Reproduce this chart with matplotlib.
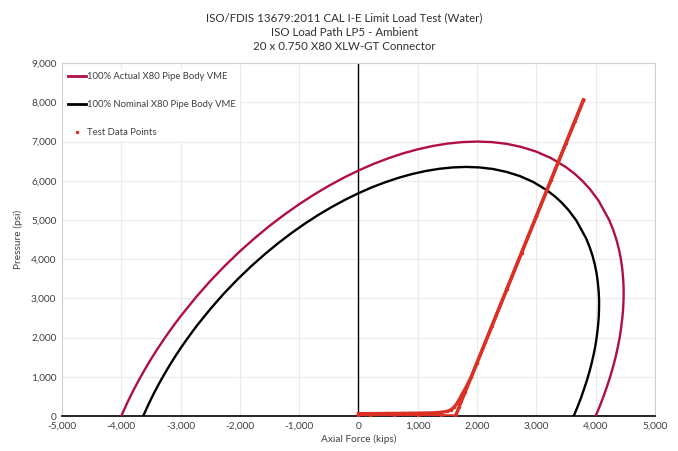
import matplotlib.pyplot as plt
from matplotlib.lines import Line2D
from matplotlib.ticker import FuncFormatter, MultipleLocator

plt.rcParams['font.family'] = ['Lato', 'DejaVu Sans']

# 100% actual X80 VME envelope (axial kips, pressure psi)
actual_f = [-4000, -3900, -3800, -3700, -3600, -3500, -3400, -3300, -3200, -3100, -3000,
            -2750, -2500, -2250, -2000, -1750, -1500, -1250, -1000, -750, -500, -250, 0,
            250, 500, 750, 1000, 1250, 1500, 1750, 2000, 2250, 2500, 2750, 3000, 3250, 3500,
            3650, 3774, 3900, 4046, 4228, 4295, 4350, 4393, 4426, 4449, 4464, 4472, 4471,
            4464, 4450, 4430, 4405, 4373, 4336, 4293, 4245, 4191, 4133, 4069, 4000]
actual_p = [0, 334, 641, 927, 1194, 1447, 1687, 1915, 2133, 2342, 2543,
            3012, 3442, 3836, 4200, 4536, 4849, 5136, 5402, 5647, 5871, 6076, 6261,
            6427, 6571, 6698, 6802, 6886, 6948, 6986, 7000, 6986, 6942, 6861, 6743, 6576, 6347,
            6173, 6000, 5794, 5500, 5000, 4750, 4500, 4250, 4000, 3750, 3500, 3250, 3000,
            2750, 2500, 2250, 2000, 1750, 1500, 1250, 1000, 750, 500, 250, 0]

# 100% nominal X80 VME envelope
nominal_f = [-3630, -3539, -3449, -3358, -3267, -3176, -3086, -2995, -2904, -2813, -2723,
             -2496, -2269, -2042, -1815, -1588, -1361, -1134, -908, -681, -454, -227, 0,
             227, 454, 681, 908, 1134, 1361, 1588, 1815, 2042, 2269, 2496, 2723, 2949, 3176,
             3312, 3425, 3539, 3672, 3837, 3898, 3948, 3987, 4017, 4037, 4051, 4058, 4057,
             4051, 4038, 4020, 3998, 3969, 3935, 3896, 3852, 3803, 3751, 3693, 3630]
nominal_p = [0, 303, 582, 841, 1084, 1313, 1531, 1738, 1936, 2125, 2308,
             2733, 3124, 3481, 3812, 4116, 4400, 4661, 4902, 5125, 5328, 5514, 5682,
             5833, 5963, 6078, 6173, 6249, 6305, 6340, 6353, 6340, 6300, 6226, 6119, 5968, 5760,
             5602, 5445, 5258, 4991, 4538, 4311, 4084, 3857, 3630, 3403, 3176, 2949, 2723,
             2496, 2269, 2042, 1815, 1588, 1361, 1134, 908, 681, 454, 227, 0]

# test data: loading path and unloading path
load_f = [0, 250, 500, 750, 1000, 1250, 1400, 1500, 1560, 1610, 1660, 1700, 1750, 1820, 1900,
          2000, 2250, 2500, 2750, 3000, 3250, 3500, 3650, 3795]
load_p = [60, 62, 65, 68, 72, 80, 95, 120, 160, 220, 320, 420, 560, 750, 986,
          1360, 2293, 3227, 4161, 5094, 6028, 6962, 7522, 8060]
unload_f = [3795, 3500, 3000, 2500, 2000, 1800, 1700, 1650, 1636, 1400, 1000, 600, 200, 0]
unload_p = [8060, 6962, 5094, 3227, 1360, 612, 239, 52, 0, 8, 10, 10, 8, 5]

fig = plt.figure(figsize=(6.78, 4.51), dpi=100)
ax = fig.add_axes([0.0914, 0.0776, 0.8746, 0.7824])

ax.plot(actual_f, actual_p, color='#b0103f', lw=1.7, solid_joinstyle='round', zorder=3)
ax.plot(nominal_f, nominal_p, color='black', lw=1.7, solid_joinstyle='round', zorder=3)
ax.plot(load_f, load_p, color='#dc3024', lw=2.4, marker='.', ms=3, zorder=4)
ax.plot(unload_f, unload_p, color='#dc3024', lw=2.4, marker='.', ms=3, zorder=4)

ax.set_xlim(-5000, 5000)
ax.set_ylim(0, 9000)
ax.xaxis.set_major_locator(MultipleLocator(1000))
ax.yaxis.set_major_locator(MultipleLocator(1000))
fmt = FuncFormatter(lambda v, p: f'{int(v):,}')
ax.xaxis.set_major_formatter(fmt)
ax.yaxis.set_major_formatter(fmt)
ax.tick_params(length=0, labelsize=7.3, colors='#404040', pad=4)
ax.grid(True, color='#ebebeb', lw=0.8)
ax.set_axisbelow(True)
for s in ['left', 'right', 'top']:
    ax.spines[s].set_color('#d0d0d0')
ax.spines['bottom'].set_color('black')
ax.spines['bottom'].set_linewidth(1.2)
ax.axvline(0, color='black', lw=1, zorder=2)

ax.set_xlabel('Axial Force (kips)', fontsize=7.3, color='#404040', labelpad=3)
ax.set_ylabel('Pressure (psi)', fontsize=7.3, color='#404040', labelpad=6)

handles = [Line2D([], [], color='#b0103f', lw=2),
           Line2D([], [], color='black', lw=2),
           Line2D([], [], color='#dc3024', lw=0, marker='.', ms=3)]
labels = ['100% Actual X80 Pipe Body VME', '100% Nominal X80 Pipe Body VME', 'Test Data Points']
leg = ax.legend(handles, labels, loc='upper left', fontsize=6.8, frameon=True, fancybox=False,
                edgecolor='none', framealpha=1, labelspacing=2.0, handlelength=1.9,
                handletextpad=0.15, borderaxespad=0.2, bbox_to_anchor=(0.0, 0.99))
for t in leg.get_texts():
    t.set_color('#404040')

fig.text(0.508, 0.960, 'ISO/FDIS 13679:2011 CAL I-E Limit Load Test (Water)', ha='center', va='center', fontsize=8.3, color='#303030')
fig.text(0.508, 0.928, 'ISO Load Path LP5 - Ambient', ha='center', va='center', fontsize=8.3, color='#303030')
fig.text(0.508, 0.896, '20 x 0.750 X80 XLW-GT Connector', ha='center', va='center', fontsize=8.3, color='#303030')

fig.savefig('out.png', dpi=100)
